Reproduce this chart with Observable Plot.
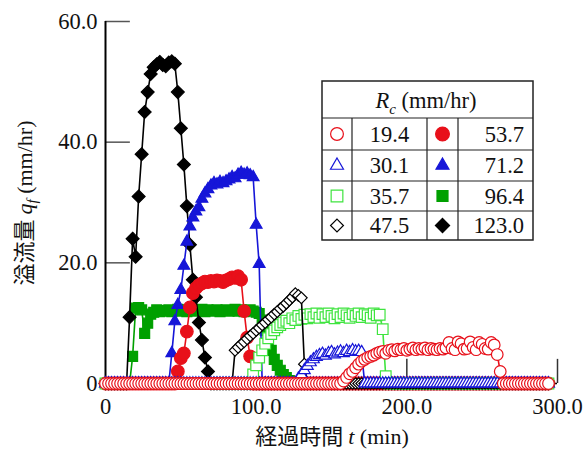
<!DOCTYPE html>
<html>
<head>
<meta charset="utf-8">
<script src="https://cdn.jsdelivr.net/npm/d3@7"></script>
<script src="https://cdn.jsdelivr.net/npm/@observablehq/plot@0.6"></script>
<style>
  body { margin: 0; background: #fff; }
</style>
</head>
<body>
<div id="chart"></div>
<script>
// Elapsed time (min), one reading every 2 minutes
const minutes = [
  0, 2, 4, 6, 8, 10, 12, 14, 16, 18,
  20, 22, 24, 26, 28, 30, 32, 34, 36, 38,
  40, 42, 44, 46, 48, 50, 52, 54, 56, 58,
  60, 62, 64, 66, 68, 70, 72, 74, 76, 78,
  80, 82, 84, 86, 88, 90, 92, 94, 96, 98,
  100, 102, 104, 106, 108, 110, 112, 114, 116, 118,
  120, 122, 124, 126, 128, 130, 132, 134, 136, 138,
  140, 142, 144, 146, 148, 150, 152, 154, 156, 158,
  160, 162, 164, 166, 168, 170, 172, 174, 176, 178,
  180, 182, 184, 186, 188, 190, 192, 194, 196, 198,
  200, 202, 204, 206, 208, 210, 212, 214, 216, 218,
  220, 222, 224, 226, 228, 230, 232, 234, 236, 238,
  240, 242, 244, 246, 248, 250, 252, 254, 256, 258,
  260, 262, 264, 266, 268, 270, 272, 274, 276, 278,
  280, 282, 284, 286, 288, 290, 292, 294
];

// Overflow q_f (mm/hr) for each rainfall intensity R_c (mm/hr)
const rc19_4 = [
  0, 0, 0, 0, 0, 0, 0, 0, 0, 0,
  0, 0, 0, 0, 0, 0, 0, 0, 0, 0,
  0, 0, 0, 0, 0, 0, 0, 0, 0, 0,
  0, 0, 0, 0, 0, 0, 0, 0, 0, 0,
  0, 0, 0, 0, 0, 0, 0, 0, 0, 0,
  0, 0, 0, 0, 0, 0, 0, 0, 0, 0,
  0, 0, 0, 0, 0, 0, 0, 0, 0, 0,
  0, 0, 0, 0, 0, 0, 0, 0, 0, 0.4,
  1.0, 1.6, 2.0, 2.6, 3.2, 3.7, 4.0, 4.3, 4.5, 4.7,
  5.0, 5.2, 5.3, 5.0, 5.5, 5.6, 5.4, 5.7, 5.6, 5.8,
  5.5, 5.7, 5.9, 5.6, 5.8, 5.7, 5.9, 5.6, 5.8, 5.7,
  5.6, 5.8, 5.7, 5.9, 6.8, 5.8, 5.6, 6.9, 6.6, 5.7,
  5.8, 6.9, 6.0, 5.6, 6.8, 6.5, 5.8, 5.7, 6.8, 6.4,
  4.8, 2.0, 0, 0, 0, 0, 0, 0, 0, 0,
  0, 0, 0, 0, 0, 0, 0, 0
];
const rc30_1 = [
  0, 0, 0, 0, 0, 0, 0, 0, 0, 0,
  0, 0, 0, 0, 0, 0, 0, 0, 0, 0,
  0, 0, 0, 0, 0, 0, 0, 0, 0, 0,
  0, 0, 0, 0, 0, 0, 0, 0, 0, 0,
  0, 0, 0, 0, 0, 0, 0, 0, 0, 0,
  0, 0, 0, 0, 0, 0, 0, 0, 0, 0,
  0, 0, 0, 0, 0.8, 1.5, 2.2, 2.9, 3.5, 4.0,
  4.4, 4.7, 4.9, 4.6, 5.0, 5.2, 4.8, 5.1, 5.3, 5.0,
  5.4, 5.2, 5.5, 5.3, 5.4, 5.2, 0, 0, 0, 0,
  0, 0, 0, 0, 0, 0, 0, 0, 0, 0,
  0, 0, 0, 0, 0, 0, 0, 0, 0, 0,
  0, 0, 0, 0, 0, 0, 0, 0, 0, 0,
  0, 0, 0, 0, 0, 0, 0, 0, 0, 0,
  0, 0, 0, 0, 0, 0, 0, 0, 0, 0,
  0, 0, 0, 0, 0, 0, 0, 0
];
const rc35_7 = [
  0, 0, 0, 0, 0, 0, 0, 0, 0, 0,
  0, 0, 0, 0, 0, 0, 0, 0, 0, 0,
  0, 0, 0, 0, 0, 0, 0, 0, 0, 0,
  0, 0, 0, 0, 0, 0, 0, 0, 0, 0,
  0, 0, 0, 0, 0, 0, 0, 0, 0, 1.5,
  3.0, 4.3, 5.5, 6.6, 7.5, 8.2, 8.8, 9.3, 9.7, 10.1,
  10.4, 10.0, 10.8, 10.5, 11.2, 10.7, 11.4, 10.8, 11.5, 11.0,
  11.6, 10.9, 11.5, 11.0, 11.6, 11.2, 10.8, 11.5, 11.0, 11.6,
  11.3, 10.9, 11.5, 11.2, 11.6, 11.0, 11.5, 11.3, 10.9, 11.6,
  11.3, 11.4, 9.0, 1.2, 0, 0, 0, 0, 0, 0,
  0, 0, 0, 0, 0, 0, 0, 0, 0, 0,
  0, 0, 0, 0, 0, 0, 0, 0, 0, 0,
  0, 0, 0, 0, 0, 0, 0, 0, 0, 0,
  0, 0, 0, 0, 0, 0, 0, 0, 0, 0,
  0, 0, 0, 0, 0, 0, 0, 0
];
const rc47_5 = [
  0, 0, 0, 0, 0, 0, 0, 0, 0, 0,
  0, 0, 0, 0, 0, 0, 0, 0, 0, 0,
  0, 0, 0, 0, 0, 0, 0, 0, 0, 0,
  0, 0, 0, 0, 0, 0, 0, 0, 0, 0,
  0, 0, 0, 5.5, 6.0, 6.5, 6.9, 7.4, 7.9, 8.3,
  8.8, 9.2, 9.7, 10.1, 10.6, 11.0, 11.5, 11.9, 12.4, 12.8,
  13.3, 13.8, 14.3, 14.9, 14.6, 14.2, 3.2, 0, 0, 0,
  0, 0, 0, 0, 0, 0, 0, 0, 0, 0,
  0, 0, 0, 0, 0, 0, 0, 0, 0, 0,
  0, 0, 0, 0, 0, 0, 0, 0, 0, 0,
  0, 0, 0, 0, 0, 0, 0, 0, 0, 0,
  0, 0, 0, 0, 0, 0, 0, 0, 0, 0,
  0, 0, 0, 0, 0, 0, 0, 0, 0, 0,
  0, 0, 0, 0, 0, 0, 0, 0, 0, 0,
  0, 0, 0, 0, 0, 0, 0, 0
];
const rc53_7 = [
  0, 0, 0, 0, 0, 0, 0, 0, 0, 0,
  0, 0, 0, 0, 0, 0, 0, 0, 0, 0,
  0, 0, 0, 0, 2.0, 4.2, 5.0, 8.6, 12.6, 15.0,
  15.8, 16.3, 16.6, 16.9, 16.8, 17.0, 16.9, 17.1, 17.0, 16.8,
  17.1, 17.3, 17.6, 17.5, 17.8, 17.2, 12.0, 7.6, 4.5, 0,
  0, 0, 0, 0, 0, 0, 0, 0, 0, 0,
  0, 0, 0, 0, 0, 0, 0, 0, 0, 0,
  0, 0, 0, 0, 0, 0, 0, 0, 0, 0,
  0, 0, 0, 0, 0, 0, 0, 0, 0, 0,
  0, 0, 0, 0, 0, 0, 0, 0, 0, 0,
  0, 0, 0, 0, 0, 0, 0, 0, 0, 0,
  0, 0, 0, 0, 0, 0, 0, 0, 0, 0,
  0, 0, 0, 0, 0, 0, 0, 0, 0, 0,
  0, 0, 0, 0, 0, 0, 0, 0, 0, 0,
  0, 0, 0, 0, 0, 0, 0, 0
];
const rc71_2 = [
  0, 0, 0, 0, 0, 0, 0, 0, 0, 0,
  0, 0, 0, 0, 0, 0, 0, 0, 0, 0,
  0, 0, 5.0, 10.3, 13.0, 15.5, 19.5, 23.5, 26.0, 27.5,
  28.5, 29.2, 30.6, 31.5, 32.2, 32.8, 33.2, 33.0, 33.4, 33.2,
  33.5, 33.8, 34.2, 34.0, 34.6, 34.9, 34.6, 34.8, 34.5, 34.2,
  26.3, 19.8, 0, 0, 0, 0, 0, 0, 0, 0,
  0, 0, 0, 0, 0, 0, 0, 0, 0, 0,
  0, 0, 0, 0, 0, 0, 0, 0, 0, 0,
  0, 0, 0, 0, 0, 0, 0, 0, 0, 0,
  0, 0, 0, 0, 0, 0, 0, 0, 0, 0,
  0, 0, 0, 0, 0, 0, 0, 0, 0, 0,
  0, 0, 0, 0, 0, 0, 0, 0, 0, 0,
  0, 0, 0, 0, 0, 0, 0, 0, 0, 0,
  0, 0, 0, 0, 0, 0, 0, 0, 0, 0,
  0, 0, 0, 0, 0, 0, 0, 0
];
const rc96_4 = [
  0, 0, 0, 0, 0, 0, 0, 0, 0, 4.5,
  12.5, 12.6, 12.2, 8.3, 10.0, 11.5, 11.8, 12.2, 11.9, 12.1,
  12.0, 12.2, 11.9, 12.1, 12.3, 12.0, 12.2, 11.9, 12.1, 12.2,
  12.0, 12.1, 12.3, 11.9, 12.2, 12.0, 12.1, 12.2, 11.9, 12.1,
  12.2, 12.0, 12.1, 12.3, 12.0, 12.2, 11.9, 12.1, 12.2, 12.0,
  11.8, 11.6, 10.5, 8.8, 7.2, 5.5, 4.0, 3.0, 2.2, 1.5,
  1.0, 0.5, 0, 0, 0, 0, 0, 0, 0, 0,
  0, 0, 0, 0, 0, 0, 0, 0, 0, 0,
  0, 0, 0, 0, 0, 0, 0, 0, 0, 0,
  0, 0, 0, 0, 0, 0, 0, 0, 0, 0,
  0, 0, 0, 0, 0, 0, 0, 0, 0, 0,
  0, 0, 0, 0, 0, 0, 0, 0, 0, 0,
  0, 0, 0, 0, 0, 0, 0, 0, 0, 0,
  0, 0, 0, 0, 0, 0, 0, 0, 0, 0,
  0, 0, 0, 0, 0, 0, 0, 0
];
const rc123_0 = [
  0, 0, 0, 0, 0, 0, 0, 0, 11.0, 24.0,
  21.0, 31.0, 38.0, 45.0, 48.3, 51.3, 52.4, 52.9, 53.3, 52.8,
  52.6, 53.2, 53.4, 53.0, 48.3, 42.3, 36.3, 29.4, 23.0, 17.2,
  14.3, 10.1, 7.2, 4.3, 2.0, 0, 0, 0, 0, 0,
  0, 0, 0, 0, 0, 0, 0, 0, 0, 0,
  0, 0, 0, 0, 0, 0, 0, 0, 0, 0,
  0, 0, 0, 0, 0, 0, 0, 0, 0, 0,
  0, 0, 0, 0, 0, 0, 0, 0, 0, 0,
  0, 0, 0, 0, 0, 0, 0, 0, 0, 0,
  0, 0, 0, 0, 0, 0, 0, 0, 0, 0,
  0, 0, 0, 0, 0, 0, 0, 0, 0, 0,
  0, 0, 0, 0, 0, 0, 0, 0, 0, 0,
  0, 0, 0, 0, 0, 0, 0, 0, 0, 0,
  0, 0, 0, 0, 0, 0, 0, 0, 0, 0,
  0, 0, 0, 0, 0, 0, 0, 0
];

const rcLabels = ["19.4", "30.1", "35.7", "47.5", "53.7", "71.2", "96.4", "123.0"];
const xTicks = [0, 100, 200, 300];
const yTicks = [0, 20, 40, 60];

// Styles
const SERIF = "'Liberation Serif', 'Times New Roman', serif";
const CJK = "'Noto Sans CJK JP', sans-serif";
const RED = "#e8101a", BLUE = "#1616d8", LIGHT_GREEN = "#3fe43f", GREEN = "#00a000", BLACK = "#000";

const styles = {
  "19.4":  {values: rc19_4,  symbol: "circle",    r: 5.8, fill: "#fff", stroke: RED,         line: RED},
  "30.1":  {values: rc30_1,  symbol: "triangle2", r: 5.6, fill: "#fff", stroke: BLUE,        line: BLUE},
  "35.7":  {values: rc35_7,  symbol: "square",    r: 6.0, fill: "#fff", stroke: LIGHT_GREEN, line: LIGHT_GREEN},
  "47.5":  {values: rc47_5,  symbol: "diamond2",  r: 5.2, fill: "#fff", stroke: BLACK,       line: BLACK},
  "53.7":  {values: rc53_7,  symbol: "circle",    r: 6.3, fill: RED,    stroke: RED,         line: RED},
  "71.2":  {values: rc71_2,  symbol: "triangle2", r: 5.6, fill: BLUE,   stroke: BLUE,        line: BLUE},
  "96.4":  {values: rc96_4,  symbol: "square",    r: 5.6, fill: GREEN,  stroke: GREEN,       line: GREEN},
  "123.0": {values: rc123_0, symbol: "diamond2",  r: 5.8, fill: BLACK,  stroke: BLACK,       line: BLACK}
};

// Back-to-front drawing order
const drawOrder = ["96.4", "123.0", "71.2", "53.7", "35.7", "47.5", "30.1", "19.4"];

const fmt = d => d === 0 ? "0" : d.toFixed(1);

const marks = [
  Plot.ruleY([0], {x1: 0, x2: 300, stroke: BLACK, strokeWidth: 1.5}),
  Plot.ruleY(yTicks.filter(d => d > 0), {x1: 0, x2: 16.5, stroke: "#555", strokeWidth: 1.5}),
  Plot.ruleX(xTicks.filter(d => d > 0), {y1: 0, y2: 4, stroke: "#333", strokeWidth: 1.5}),
  Plot.ruleX([0], {y1: 0, y2: 60, stroke: BLACK, strokeWidth: 2})
];

for (const key of drawOrder) {
  const s = styles[key];
  const rows = s.values.map((q, i) => ({t: minutes[i], q}));
  marks.push(Plot.line(rows, {x: "t", y: "q", stroke: s.line, strokeWidth: 1.6}));
  marks.push(Plot.dot(rows, {
    x: "t", y: "q", symbol: s.symbol, r: s.r,
    fill: s.fill, stroke: s.stroke, strokeWidth: 1.2
  }));
}

const chart = Plot.plot({
  width: 588,
  height: 450,
  marginLeft: 105,
  marginRight: 31,
  marginTop: 21,
  marginBottom: 67,
  style: {fontFamily: SERIF, fontSize: "22.5px", background: "#fff", color: "#111"},
  x: {domain: [0, 300], ticks: xTicks, tickFormat: fmt, tickSize: 0, tickPadding: 15, label: null},
  y: {domain: [0, 60], ticks: yTicks, tickFormat: fmt, tickSize: 0, tickPadding: 8, label: null},
  marks
});

document.getElementById("chart").appendChild(chart);

const svg = d3.select(chart);

// Axis titles
const yTitle = svg.append("text")
  .attr("transform", "translate(32,203) rotate(-90)")
  .attr("text-anchor", "middle")
  .attr("font-size", 22)
  .attr("fill", "#111");
yTitle.append("tspan").attr("font-family", CJK).text("溢流量 ");
yTitle.append("tspan").attr("font-family", SERIF).attr("font-style", "italic").text("q");
yTitle.append("tspan").attr("font-family", SERIF).attr("font-style", "italic")
  .attr("font-size", 15).attr("dy", 5).text("f");
yTitle.append("tspan").attr("font-family", SERIF).attr("dy", -5).text(" (mm/hr)");

const xTitle = svg.append("text")
  .attr("x", 332).attr("y", 444)
  .attr("text-anchor", "middle")
  .attr("font-size", 22)
  .attr("fill", "#111");
xTitle.append("tspan").attr("font-family", CJK).text("経過時間 ");
xTitle.append("tspan").attr("font-family", SERIF).attr("font-style", "italic").text("t");
xTitle.append("tspan").attr("font-family", SERIF).text(" (min)");

// Legend table
const box = {x0: 322, x1: 533, y0: 81, yHead: 118, rows: [118, 150, 181, 211, 240], cols: [352, 427, 458]};
const lg = svg.append("g").attr("font-family", SERIF).attr("font-size", 22.5).attr("fill", "#111");
lg.append("rect")
  .attr("x", box.x0).attr("y", box.y0)
  .attr("width", box.x1 - box.x0).attr("height", box.rows[4] - box.y0)
  .attr("fill", "#fff").attr("stroke", "#222").attr("stroke-width", 1.5);
for (const y of box.rows.slice(0, 4)) {
  lg.append("line").attr("x1", box.x0).attr("x2", box.x1).attr("y1", y).attr("y2", y)
    .attr("stroke", "#222").attr("stroke-width", 1.2);
}
for (const x of box.cols) {
  lg.append("line").attr("x1", x).attr("x2", x).attr("y1", box.yHead).attr("y2", box.rows[4])
    .attr("stroke", "#222").attr("stroke-width", 1.2);
}
const head = lg.append("text").attr("x", 426).attr("y", 108).attr("text-anchor", "middle");
head.append("tspan").attr("font-style", "italic").text("R");
head.append("tspan").attr("font-style", "italic").attr("font-size", 15).attr("dy", 6).text("c");
head.append("tspan").attr("dy", -6).text(" (mm/hr)");

const symbolTypes = {circle: d3.symbolCircle, triangle2: d3.symbolTriangle2, square: d3.symbolSquare, diamond2: d3.symbolDiamond2};
rcLabels.forEach((label, i) => {
  const s = styles[label];
  const col = i < 4 ? 0 : 1;
  const row = i % 4;
  const cy = (box.rows[row] + box.rows[row + 1]) / 2;
  const sx = col === 0 ? (box.x0 + box.cols[0]) / 2 : (box.cols[1] + box.cols[2]) / 2;
  const rr = s.r + 0.6;
  lg.append("path")
    .attr("transform", `translate(${sx},${cy})`)
    .attr("d", d3.symbol(symbolTypes[s.symbol], Math.PI * rr * rr)())
    .attr("fill", s.fill).attr("stroke", s.stroke).attr("stroke-width", 1.2);
  const t = lg.append("text").attr("y", cy).attr("dy", "0.35em");
  if (col === 0) t.attr("x", (box.cols[0] + box.cols[1]) / 2).attr("text-anchor", "middle");
  else t.attr("x", box.x1 - 9).attr("text-anchor", "end");
  t.text(label);
});
</script>
</body>
</html>
